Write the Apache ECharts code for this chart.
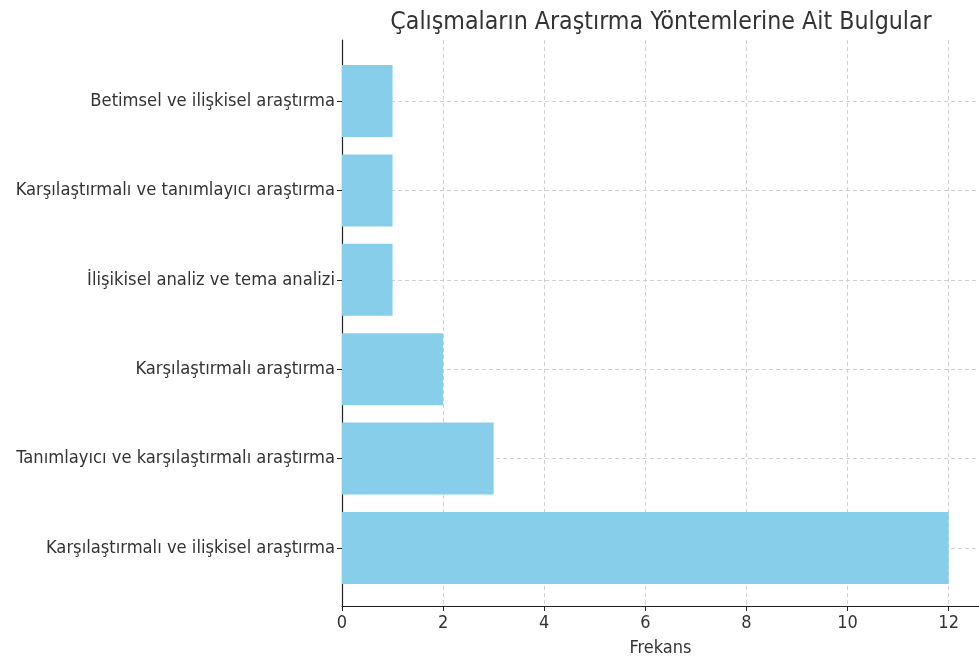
<!DOCTYPE html>
<html lang="tr">
<head>
<meta charset="UTF-8">
<title>Çalışmaların Araştırma Yöntemlerine Ait Bulgular</title>
<script src="https://cdn.jsdelivr.net/npm/echarts@6/dist/echarts.min.js"></script>
<style>
html, body { margin: 0; padding: 0; background: #fff; }
#chart { width: 979px; height: 662px; }
</style>
</head>
<body>
<div id="chart"></div>
<script>
// top to bottom, as drawn
const categories = [
  'Betimsel ve ilişkisel araştırma',
  'Karşılaştırmalı ve tanımlayıcı araştırma',
  'İlişikisel analiz ve tema analizi',
  'Karşılaştırmalı araştırma',
  'Tanımlayıcı ve karşılaştırmalı araştırma',
  'Karşılaştırmalı ve ilişkisel araştırma'
];
const frequencies = [1, 1, 1, 2, 3, 12];
const xTicks = [0, 2, 4, 6, 8, 10, 12];

const font = '"DejaVu Sans Condensed", "DejaVu Sans", sans-serif';
const gridLine = { show: true, lineStyle: { color: '#d0d0d0', type: [4, 3], width: 1 } };

const chart = echarts.init(document.getElementById('chart'));

chart.setOption({
  animation: false,
  title: {
    text: 'Çalışmaların Araştırma Yöntemlerine Ait Bulgular',
    left: 656,
    textAlign: 'center',
    top: 5,
    textStyle: { fontFamily: font, fontSize: 24.7, fontWeight: 'normal', color: '#333' }
  },
  grid: [
    // frame: x axis + left spine
    { left: 342, top: 40, right: 0, bottom: 54 },
    // bars, category centers at first/last bar
    { left: 342, top: 101, right: 0, bottom: 114 }
  ],
  xAxis: [
    {
      gridIndex: 0,
      type: 'value',
      min: 0,
      max: 12.6,
      interval: 2,
      name: 'Frekans',
      nameLocation: 'middle',
      nameGap: 33,
      nameTextStyle: { fontFamily: font, fontSize: 18, color: '#333' },
      axisLine: { show: true, lineStyle: { color: '#222', width: 1.2 } },
      axisTick: { show: true, length: 5, lineStyle: { color: '#222' } },
      axisLabel: {
        fontFamily: font, fontSize: 18, color: '#333', margin: 8,
        showMaxLabel: false,
        formatter: v => (xTicks.indexOf(v) >= 0 ? String(v) : '')
      },
      splitLine: gridLine
    },
    {
      gridIndex: 1,
      type: 'value',
      min: 0,
      max: 12.6,
      show: false,
      splitLine: { show: false }
    }
  ],
  yAxis: [
    {
      gridIndex: 0,
      type: 'value',
      min: 0,
      max: 1,
      axisLine: { show: true, lineStyle: { color: '#222', width: 1.2 } },
      axisTick: { show: false },
      axisLabel: { show: false },
      splitLine: { show: false }
    },
    {
      gridIndex: 1,
      type: 'category',
      inverse: true,
      boundaryGap: false,
      data: categories,
      axisLine: { show: false },
      axisTick: { show: true, length: 5, lineStyle: { color: '#222' } },
      axisLabel: { fontFamily: font, fontSize: 18.2, color: '#333', margin: 7 },
      splitLine: gridLine
    }
  ],
  series: [{
    type: 'bar',
    xAxisIndex: 1,
    yAxisIndex: 1,
    data: frequencies,
    barWidth: 72,
    clip: false,
    itemStyle: { color: '#87CEEB' }
  }]
});
</script>
</body>
</html>
